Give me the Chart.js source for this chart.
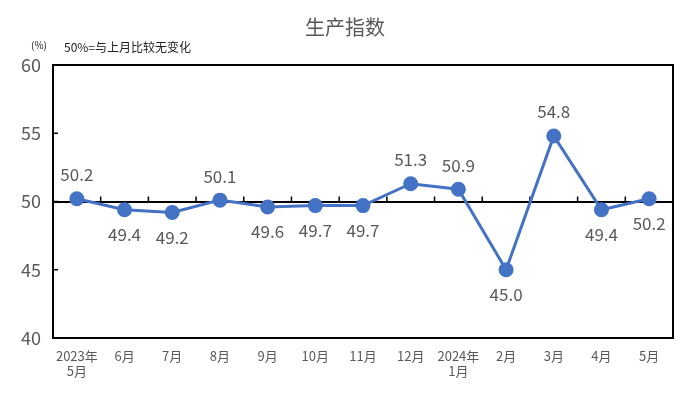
<!DOCTYPE html>
<html>
<head>
<meta charset="utf-8">
<script src="https://cdn.jsdelivr.net/npm/chart.js@4"></script>
<style>
  body { margin: 0; background: #fff; }
  canvas { display: block; }
</style>
</head>
<body>
<canvas id="chart" width="691" height="399"></canvas>
<script>
const months = [['2023年', '5月'], '6月', '7月', '8月', '9月', '10月', '11月', '12月', ['2024年', '1月'], '2月', '3月', '4月', '5月'];
const values = [50.2, 49.4, 49.2, 50.1, 49.6, 49.7, 49.7, 51.3, 50.9, 45.0, 54.8, 49.4, 50.2];
const labelAbove = [true, false, false, true, false, false, false, true, true, false, true, false, false];
const yTicks = [40, 45, 50, 55, 60];

const fontFamily = '"Noto Sans CJK SC", "Microsoft YaHei", sans-serif';
const grey = '#595959';

const decorations = {
  id: 'decorations',
  beforeDatasetsDraw(chart) {
    const ctx = chart.ctx;
    const area = chart.chartArea;
    const x = chart.scales.x;
    const y = chart.scales.y;
    ctx.save();
    ctx.strokeStyle = '#000';
    ctx.lineWidth = 1.5;
    // y ticks pointing inward
    yTicks.forEach(v => {
      const py = y.getPixelForValue(v);
      ctx.beginPath();
      ctx.moveTo(area.left, py);
      ctx.lineTo(area.left + 5, py);
      ctx.stroke();
    });
    // category boundary ticks on the 50 line
    const y50 = y.getPixelForValue(50);
    for (let i = 1; i < values.length; i++) {
      const px = (x.getPixelForValue(i - 1) + x.getPixelForValue(i)) / 2;
      ctx.beginPath();
      ctx.moveTo(px, y50);
      ctx.lineTo(px, y50 - 5);
      ctx.stroke();
    }
    ctx.restore();
  },
  afterDraw(chart) {
    const ctx = chart.ctx;
    const area = chart.chartArea;
    ctx.save();
    // frame
    ctx.strokeStyle = '#000';
    ctx.lineWidth = 2;
    ctx.strokeRect(area.left, area.top, area.right - area.left, area.bottom - area.top);
    // title
    ctx.fillStyle = grey;
    ctx.font = '20px ' + fontFamily;
    ctx.textAlign = 'center';
    ctx.textBaseline = 'middle';
    ctx.fillText('生产指数', 345, 27);
    // unit note
    ctx.fillStyle = '#222';
    ctx.font = '10px ' + fontFamily;
    ctx.textAlign = 'left';
    ctx.fillText('(%)', 31, 45);
    ctx.font = '12px ' + fontFamily;
    ctx.fillText('50%=与上月比较无变化', 64, 47);
    // value labels
    const meta = chart.getDatasetMeta(0);
    ctx.fillStyle = grey;
    ctx.font = '17px ' + fontFamily;
    ctx.textAlign = 'center';
    meta.data.forEach((pt, i) => {
      const dy = labelAbove[i] ? -24 : 25;
      ctx.fillText(values[i].toFixed(1), pt.x, pt.y + dy);
    });
    ctx.restore();
  }
};

new Chart(document.getElementById('chart'), {
  type: 'line',
  data: {
    labels: months,
    datasets: [{
      data: values,
      borderColor: '#4472C4',
      backgroundColor: '#4472C4',
      borderWidth: 3,
      pointRadius: 6,
      pointHoverRadius: 6,
      tension: 0
    }]
  },
  options: {
    responsive: false,
    animation: false,
    layout: { padding: { top: 65, right: 18, bottom: 0, left: 0 } },
    plugins: {
      legend: { display: false },
      title: { display: false },
      tooltip: { enabled: false }
    },
    scales: {
      x: {
        offset: true,
        grid: { display: false },
        border: { display: false },
        ticks: {
          color: grey,
          font: { family: fontFamily, size: 13 },
          maxRotation: 0,
          autoSkip: false,
          padding: 2
        },
        afterFit(scale) { scale.height = 61; }
      },
      y: {
        min: 40,
        max: 60,
        afterBuildTicks(scale) { scale.ticks = yTicks.map(v => ({ value: v })); },
        ticks: {
          color: grey,
          font: { family: fontFamily, size: 18 },
          padding: 12
        },
        grid: {
          drawTicks: false,
          color: ctx => ctx.tick && ctx.tick.value === 50 ? '#000' : 'rgba(0,0,0,0)',
          lineWidth: 2
        },
        border: { display: false },
        afterFit(scale) { scale.width = 53; }
      }
    }
  },
  plugins: [decorations]
});
</script>
</body>
</html>
